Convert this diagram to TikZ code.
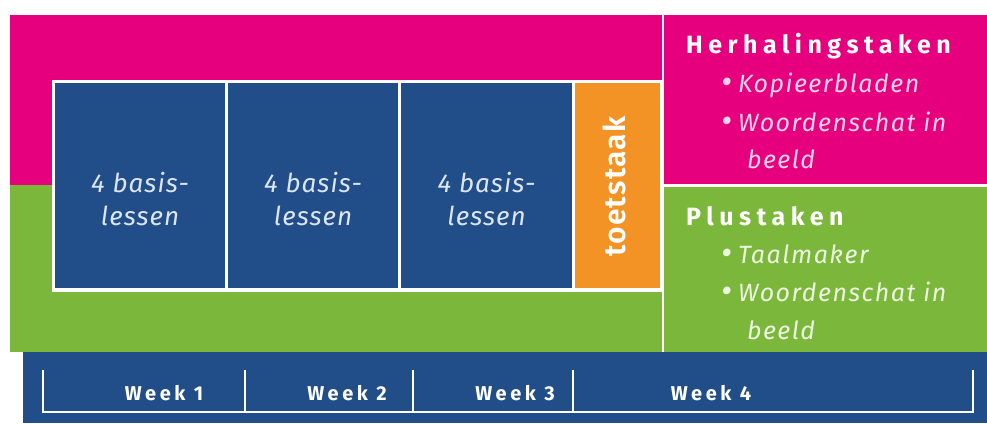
\documentclass[tikz,border=0pt]{standalone}
\usepackage{fontspec}
\setmainfont{Fira Sans}
\newfontfamily\headfont[LetterSpace=22]{Fira Sans Bold}
\newfontfamily\itfont[LetterSpace=6]{Fira Sans Italic}
\newfontfamily\boxfont[LetterSpace=4]{Fira Sans Italic}
\newfontfamily\weekfont[LetterSpace=18]{Fira Sans Bold}
\newfontfamily\toetsfont[LetterSpace=4]{Fira Sans SemiBold}
\definecolor{mag}{HTML}{E6007E}
\definecolor{grn}{HTML}{7AB73A}
\definecolor{blu}{HTML}{214E88}
\definecolor{org}{HTML}{F39325}
\definecolor{boxtxt}{HTML}{DCE6F3}
\definecolor{pinktxt}{HTML}{FAD3E8}
\definecolor{grntxt}{HTML}{EEF7E2}
\newcommand{\bul}{{\fontsize{34}{26}\selectfont\raisebox{-1pt}{•}}\hspace{6pt}}
\begin{document}
\begin{tikzpicture}[x=1pt,y=-1pt,
  area/.style={draw=none,inner sep=0pt,outer sep=0pt,anchor=north west},
  boxlabel/.style={align=center,inner sep=0pt,text=boxtxt,font=\fontsize{26}{33}\boxfont},
  head/.style={anchor=base west,inner sep=0pt,font=\fontsize{25}{26}\headfont},
  item/.style={anchor=base west,inner sep=0pt,font=\fontsize{25}{26}\itfont},
  weeklabel/.style={anchor=base,inner sep=0pt,text=white,font=\fontsize{20}{20}\weekfont},
  bracket/.style={draw=white,line width=2pt}]
\useasboundingbox (0,0) rectangle (987,423);
% background areas
\node[area,fill=mag,minimum width=652pt,minimum height=170pt] (magL) at (10,15) {};
\node[area,fill=grn,minimum width=652pt,minimum height=167pt] (grnL) at (10,185) {};
\node[area,fill=mag,minimum width=323pt,minimum height=169pt] (magR) at (664,15) {};
\node[area,fill=grn,minimum width=323pt,minimum height=165pt] (grnR) at (664,187) {};
\node[area,fill=blu,minimum width=964pt,minimum height=71pt] (bar) at (23,352) {};
% frame and boxes
\node[area,fill=white,minimum width=610pt,minimum height=212pt] (frame) at (52,80) {};
\node[area,fill=blu,minimum width=170pt,minimum height=205pt] (b1) at (55,83) {};
\node[area,fill=blu,minimum width=170pt,minimum height=205pt] (b2) at (228,83) {};
\node[area,fill=blu,minimum width=171pt,minimum height=205pt] (b3) at (401,83) {};
\node[area,fill=org,minimum width=85pt,minimum height=205pt] (toets) at (575,83) {};
% box labels
\node[boxlabel] (t1) at ([yshift=-14pt]b1.center) {4 basis-\\lessen};
\node[boxlabel] (t2) at ([yshift=-14pt]b2.center) {4 basis-\\lessen};
\node[boxlabel] (t3) at ([yshift=-14pt]b3.center) {4 basis-\\lessen};
\node[rotate=90,inner sep=0pt,text=white,font=\fontsize{30}{32}\toetsfont] (tt) at ([xshift=-3pt,yshift=-1pt]toets.center) {toetstaak};
% right panel texts
\node[head,text=white] (h1) at (686,53) {Herhalingstaken};
\node[item,text=pinktxt] (h1a) at (721,92) {\bul Kopieerbladen};
\node[item,text=pinktxt] (h1b) at (721,131) {\bul Woordenschat in};
\node[item,text=pinktxt] (h1c) at (747,168) {beeld};
\node[head,text=white] (h2) at (686,225) {Plustaken};
\node[item,text=grntxt] (h2a) at (721,263) {\bul Taalmaker};
\node[item,text=grntxt] (h2b) at (721,301) {\bul Woordenschat in};
\node[item,text=grntxt] (h2c) at (747,339) {beeld};
% week bracket
\coordinate (w0t) at (43,370); \coordinate (w0b) at (43,412);
\coordinate (w1t) at (245,370); \coordinate (w1b) at (245,412);
\coordinate (w2t) at (413,370); \coordinate (w2b) at (413,412);
\coordinate (w3t) at (573,370); \coordinate (w3b) at (573,412);
\coordinate (w4t) at (973,370); \coordinate (w4b) at (973,412);
\draw[bracket] (w0t) -- (w0b) -- (w4b) -- (w4t);
\draw[bracket] (w1t) -- (w1b);
\draw[bracket] (w2t) -- (w2b);
\draw[bracket] (w3t) -- (w3b);
\node[weeklabel] (wk1) at (164,400) {Week 1};
\node[weeklabel] (wk2) at (347,400) {Week 2};
\node[weeklabel] (wk3) at (515,400) {Week 3};
\node[weeklabel] (wk4) at (711,400) {Week 4};
\end{tikzpicture}
\end{document}
